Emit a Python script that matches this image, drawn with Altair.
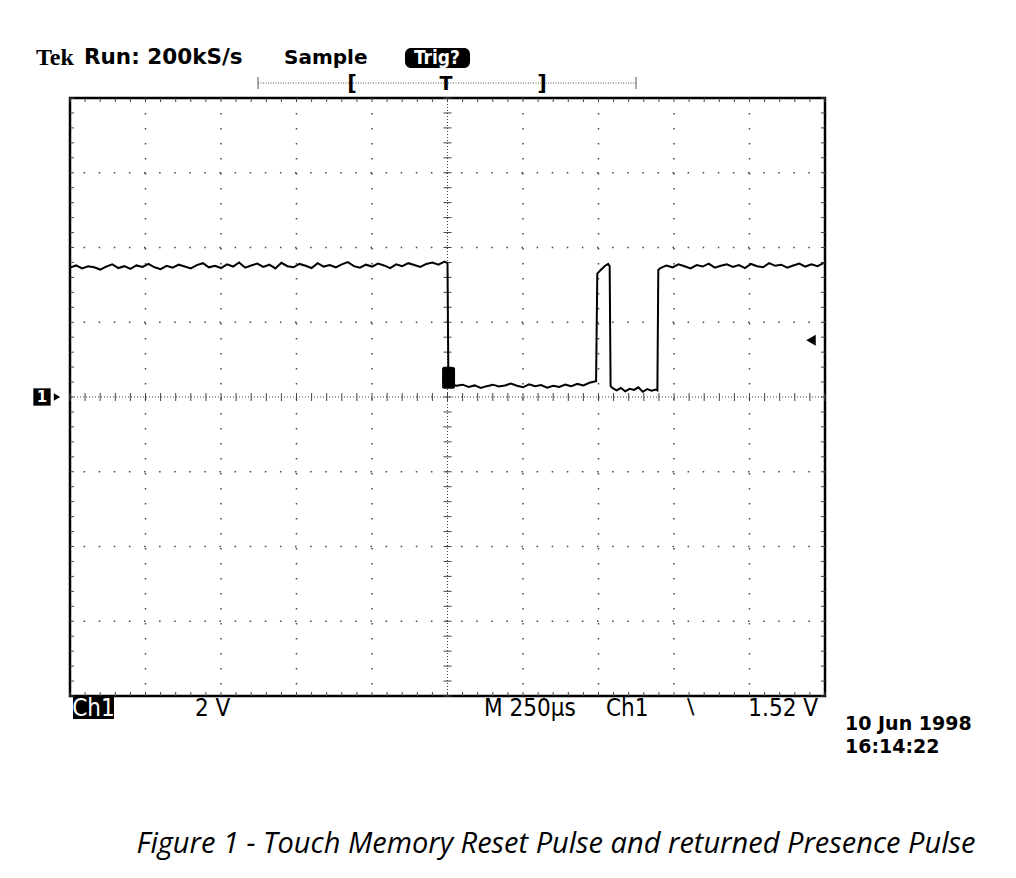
import altair as alt
import numpy as np
import pandas as pd

# ---- scope settings (from screen) ----
T_DIV = 250.0      # µs per division
V_DIV = 2.0        # V per division
TRIG_LEVEL = 1.52  # V

# ---- trace values (V) ----
high_left = [3.46, 3.52, 3.44, 3.50, 3.47, 3.41, 3.49, 3.55, 3.45, 3.50, 3.43, 3.52,
             3.48, 3.56, 3.47, 3.42, 3.51, 3.46, 3.54, 3.49, 3.44, 3.53, 3.58, 3.47,
             3.51, 3.45, 3.55, 3.49, 3.60, 3.46, 3.52, 3.57, 3.48, 3.54, 3.44, 3.59,
             3.50, 3.47, 3.56, 3.51, 3.45, 3.58, 3.49, 3.53, 3.47, 3.55, 3.61, 3.50,
             3.46, 3.54, 3.49, 3.57, 3.52, 3.45, 3.55, 3.50, 3.58, 3.53, 3.48, 3.56,
             3.60, 3.54, 3.62]
reset_low = [0.34, 0.30, 0.33, 0.27, 0.31, 0.24, 0.29, 0.33, 0.28, 0.31, 0.36, 0.30,
             0.26, 0.34, 0.29, 0.32, 0.25, 0.30, 0.27, 0.33, 0.29, 0.35, 0.31, 0.38, 0.42]
pulse_t = [492, 496, 505, 520, 532, 537, 540]
pulse_v = [0.42, 3.30, 3.38, 3.50, 3.56, 3.50, 0.30]
presence_low = [0.25, 0.18, 0.24, 0.15, 0.22, 0.19, 0.26, 0.14, 0.21, 0.17, 0.20]
rise_t = [695, 698]
rise_v = [0.18, 3.40]
high_right = [3.45, 3.52, 3.47, 3.55, 3.50, 3.44, 3.53, 3.49, 3.57, 3.46, 3.51, 3.55,
              3.48, 3.53, 3.45, 3.56, 3.50, 3.47, 3.58, 3.51, 3.54, 3.46, 3.52, 3.57,
              3.49, 3.55, 3.50, 3.58]
fall_t = [0, 3]
fall_v = [3.58, 0.35]
blob = {"t0": [-18], "t1": [25], "v0": [0.22], "v1": [0.80]}

# sample times
t_hl = [-1250 + 20 * i for i in range(len(high_left))]
t_rl = [10 + 20 * i for i in range(len(reset_low))]
t_pl = [545 + 14.5 * i for i in range(len(presence_low))]
t_hr = [705 + 20 * i for i in range(len(high_right))]

trace = pd.DataFrame({
    "t": t_hl + fall_t + t_rl + pulse_t + t_pl + rise_t + t_hr,
    "v": high_left + fall_v + reset_low + pulse_v + presence_low + rise_v + high_right,
})

W, H = 755, 598
xs = alt.Scale(domain=[-5 * T_DIV, 5 * T_DIV], nice=False, zero=False)
ys = alt.Scale(domain=[-4 * V_DIV, 4 * V_DIV], nice=False, zero=False)
X = lambda f: alt.X(f, type="quantitative", scale=xs, axis=None)
Y = lambda f: alt.Y(f, type="quantitative", scale=ys, axis=None)

tv = 4 / H * 8 * V_DIV   # 4 px in volts
tt = 4 / W * 10 * T_DIV  # 4 px in µs

x_div = pd.DataFrame({"t": [k * T_DIV for k in range(-4, 5) if k != 0]})
y_div = pd.DataFrame({"v": [k * V_DIV for k in range(-3, 4) if k != 0]})
xm = np.arange(-5 * T_DIV, 5 * T_DIV + 1, T_DIV / 5)
ym = np.arange(-4 * V_DIV, 4 * V_DIV + 0.01, V_DIV / 5)
top, bot, lft, rgt = 4 * V_DIV, -4 * V_DIV, -5 * T_DIV, 5 * T_DIV

# tick segments (minor divisions) on center cross and frame edges
vt = pd.DataFrame({
    "t": np.concatenate([xm, xm, xm]),
    "a": np.concatenate([np.full(len(xm), -tv), np.full(len(xm), top), np.full(len(xm), bot)]),
    "b": np.concatenate([np.full(len(xm), tv), np.full(len(xm), top - tv), np.full(len(xm), bot + tv)]),
})
ht = pd.DataFrame({
    "v": np.concatenate([ym, ym, ym]),
    "a": np.concatenate([np.full(len(ym), -tt), np.full(len(ym), lft), np.full(len(ym), rgt)]),
    "b": np.concatenate([np.full(len(ym), tt), np.full(len(ym), lft + tt), np.full(len(ym), rgt - tt)]),
})
center = pd.DataFrame({"t": [0.0], "v": [0.0]})

grid_col = "#444444"
grid_v = alt.Chart(x_div).mark_rule(color=grid_col, strokeWidth=1.5, strokeDash=[1.5, 13.5]).encode(x=X("t"))
grid_h = alt.Chart(y_div).mark_rule(color=grid_col, strokeWidth=1.5, strokeDash=[1.5, 13.6]).encode(y=Y("v"))
center_v = alt.Chart(center).mark_rule(color=grid_col, strokeWidth=1, strokeDash=[1, 2]).encode(x=X("t"))
center_h = alt.Chart(center).mark_rule(color=grid_col, strokeWidth=1, strokeDash=[1, 2]).encode(y=Y("v"))
tick_style = dict(color="#444444", strokeWidth=1)
ticks_v = alt.Chart(vt).mark_rule(**tick_style).encode(x=X("t"), y=Y("a"), y2="b")
ticks_h = alt.Chart(ht).mark_rule(**tick_style).encode(y=Y("v"), x=X("a"), x2="b")

line = alt.Chart(trace).mark_line(color="black", strokeWidth=2).encode(x=X("t"), y=Y("v"), order="t:Q")
blob_rect = alt.Chart(pd.DataFrame(blob)).mark_rect(color="black", cornerRadius=2).encode(
    x=X("t0"), x2="t1", y=Y("v0"), y2="v1")

gnd = pd.DataFrame({"v": [0.0]})
trig = pd.DataFrame({"v": [TRIG_LEVEL]})
gnd_box = alt.Chart(gnd).mark_point(shape="square", filled=True, color="black", size=300, opacity=1).encode(
    x=alt.value(-28), y=Y("v"))
gnd_txt = alt.Chart(gnd).mark_text(text="1", color="white", fontSize=15, fontWeight="bold", font="DejaVu Sans").encode(
    x=alt.value(-28), y=Y("v"))
gnd_arr = alt.Chart(gnd).mark_point(shape="triangle-right", filled=True, color="black", size=55, opacity=1).encode(
    x=alt.value(-13), y=Y("v"))
trig_arr = alt.Chart(trig).mark_point(shape="triangle-left", filled=True, color="black", size=120, opacity=1).encode(
    x=alt.value(741), y=Y("v"))

one = pd.DataFrame({"a": [0]})

def txt(s, x, y, size=19, font="DejaVu Sans", weight="normal", color="black", align="left", style="normal", baseline="alphabetic"):
    return alt.Chart(one).mark_text(text=s, fontSize=size, font=font, fontWeight=weight, color=color,
                                    align=align, fontStyle=style, baseline=baseline).encode(
        x=alt.value(x), y=alt.value(y))

def box(x1, x2, y1, y2, r=0):
    return alt.Chart(one).mark_rect(color="black", cornerRadius=r).encode(
        x=alt.value(x1), x2=alt.value(x2), y=alt.value(y1), y2=alt.value(y2))

def seg(x1, x2, y1, y2, dash=None):
    kw = dict(color="#555555", strokeWidth=1)
    if dash:
        kw["strokeDash"] = dash
    return alt.Chart(one).mark_rule(**kw).encode(
        x=alt.value(x1), x2=alt.value(x2), y=alt.value(y1), y2=alt.value(y2))

cond = "DejaVu Sans Condensed, Liberation Sans Narrow, DejaVu Sans"
header = [
    txt("Tek", -34, -33, size=24, font="Liberation Serif", weight="bold"),
    txt("Run: 200kS/s", 14, -34, size=21.5, font="DejaVu Sans", weight="bold"),
    txt("Sample", 214, -34, size=20, font="DejaVu Sans", weight="bold"),
    box(335, 400, -50, -30, r=6),
    txt("Trig?", 367, -34, size=19, font="DejaVu Sans Condensed", weight="bold", color="white", align="center"),
    seg(188, 566, -15, -15, dash=[1, 1.5]),
    seg(188, 188, -21, -9),
    seg(566, 566, -21, -9),
    txt("[", 282, -14, size=21, weight="bold", align="center", baseline="middle"),
    txt("T", 376, -14, size=19, weight="bold", align="center", baseline="middle"),
    txt("]", 472, -14, size=21, weight="bold", align="center", baseline="middle"),
]
footer = [
    box(3, 44, 599, 621),
    txt("Ch1", 23.5, 618, size=24, font=cond, color="white", align="center"),
    txt("2 V", 125, 618, size=24, font=cond),
    txt("M 250µs", 414, 618, size=24, font=cond),
    txt("Ch1", 536, 618, size=24, font=cond),
    txt("\\", 617, 616, size=22, font="DejaVu Sans"),
    txt("1.52 V", 748, 618, size=24, font=cond, align="right"),
    txt("10 Jun 1998", 775, 632, size=19, font="DejaVu Sans", weight="bold"),
    txt("16:14:22", 775, 655, size=19, font="DejaVu Sans", weight="bold"),
    txt("Figure 1 - Touch Memory Reset Pulse and returned Presence Pulse", 486, 755, size=29,
        font="Open Sans", style="italic", align="center"),
]

chart = alt.layer(
    grid_v, grid_h, center_v, center_h, ticks_v, ticks_h,
    line, blob_rect, gnd_box, gnd_txt, gnd_arr, trig_arr, *header, *footer
).properties(
    width=W, height=H,
    autosize=alt.AutoSizeParams(type="none"),
    padding={"left": 62, "top": 90, "right": 183, "bottom": 174},
).configure_view(stroke="black", strokeWidth=2.5)

chart.save("out.html", embed_options={"renderer": "svg", "actions": False})
